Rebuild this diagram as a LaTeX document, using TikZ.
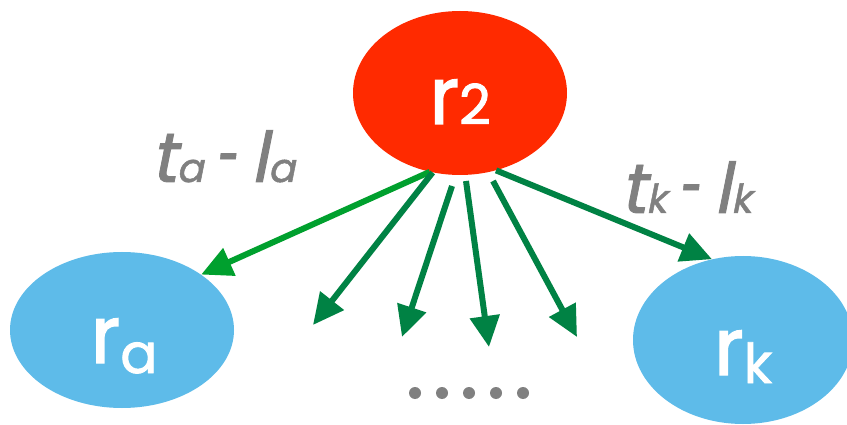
\documentclass[tikz,border=0pt]{standalone}
\usepackage{fontspec}
\usepackage{graphicx}
\setmainfont{Poppins}
\newfontfamily\nodefont[FakeBold=1.6]{Poppins}
\newfontfamily\slfont[FakeSlant=0.2,FakeBold=1.2]{Poppins}
\usetikzlibrary{arrows.meta,shapes.geometric}
\definecolor{nodered}{HTML}{FF2A00}
\definecolor{nodeblue}{HTML}{5EBBE9}
\definecolor{lightgr}{HTML}{00A02E}
\definecolor{darkgr}{HTML}{008244}
\definecolor{txtgray}{HTML}{808080}
\newcommand{\nsub}[1]{{\fontsize{55}{55}\selectfont #1}}
\newcommand{\lsub}[1]{{\fontsize{40}{40}\selectfont #1}}
\newcommand{\lminus}{\hspace{12pt}\scalebox{0.55}[1]{-}\hspace{14pt}}
\begin{document}
\begin{tikzpicture}[x=1pt,y=-1pt,
  bubble/.style={ellipse,inner sep=0pt,draw=none},
  bigtxt/.style={text=white,inner sep=0pt,font=\nodefont\fontsize{80}{80}\selectfont},
  lbl/.style={text=txtgray,inner sep=0pt,font=\slfont\fontsize{70}{70}\selectfont},
  arr/.style={line width=6pt,-{Triangle[length=31pt,width=29pt]}},
  dotfill/.style={fill=txtgray}]
\useasboundingbox[fill=white] (0,0) rectangle (847,425);
\node[bubble,fill=nodered,minimum width=214pt,minimum height=164pt] (r2) at (460,93) {};
\node[bubble,fill=nodeblue,minimum width=224pt,minimum height=156pt] (ra) at (122,330) {};
\node[bubble,fill=nodeblue,minimum width=220pt,minimum height=168pt] (rk) at (743,340) {};
\node[bigtxt,anchor=base] (r2t) at (460,124) {r\nsub{2}};
\node[bigtxt,anchor=base] (rat) at (124,363) {r\nsub{\raisebox{-10pt}{a}}};
\node[bigtxt,anchor=base] (rkt) at (743,375) {r\nsub{\raisebox{-8pt}{k}}};
\node[lbl,anchor=base] (la) at (223,182) {t\lsub{a}\lminus l\lsub{a}};
\node[lbl,anchor=base] (lk) at (686,213) {t\lsub{k}\lminus l\lsub{k}};
\coordinate (e1) at (313,325);
\coordinate (s2) at (452,186);
\coordinate (e2) at (402,337);
\coordinate (s3) at (466,181);
\coordinate (e3) at (489,347);
\coordinate (s4) at (493,181);
\coordinate (e4) at (577,337);
\draw[arr,draw=lightgr,fill=lightgr] (r2.249) -- (ra.35);
\draw[arr,draw=darkgr,fill=darkgr] (r2.251) -- (e1);
\draw[arr,draw=darkgr,fill=darkgr] (s2) -- (e2);
\draw[arr,draw=darkgr,fill=darkgr] (s3) -- (e3);
\draw[arr,draw=darkgr,fill=darkgr] (s4) -- (e4);
\draw[arr,draw=darkgr,fill=darkgr] (r2.295) -- (rk.111);
\foreach \x in {415,442,469,496,523} \fill[dotfill] (\x,393) circle (6pt);
\end{tikzpicture}
\end{document}
